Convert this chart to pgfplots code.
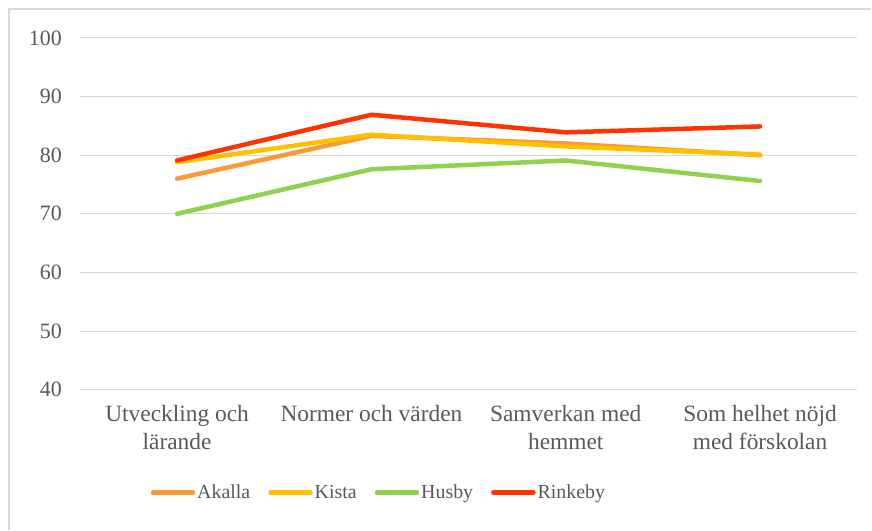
\documentclass[border=0pt]{standalone}
\usepackage{pgfplots}
\pgfplotsset{compat=1.18}
\usepackage{fontspec}
\setmainfont{Liberation Serif}
\definecolor{akalla}{HTML}{F8993A}
\definecolor{kista}{HTML}{FFC000}
\definecolor{husby}{HTML}{92D050}
\definecolor{rinkeby}{HTML}{FF3300}
\definecolor{gridc}{HTML}{D9D9D9}
\definecolor{txt}{HTML}{595959}
\begin{document}
\begin{tikzpicture}
\begin{axis}[
    scale only axis,
    width=778bp, height=352bp,
    xmin=-0.5, xmax=3.5,
    ymin=40, ymax=100,
    xtick={0,1,2,3},
    xticklabels={{Utveckling och\\lärande},{Normer och värden},{Samverkan med\\hemmet},{Som helhet nöjd\\med förskolan}},
    ytick={40,50,60,70,80,90,100},
    axis line style={draw=none},
    major tick length=0pt,
    ymajorgrids,
    grid style={gridc, line width=1bp},
    xticklabel style={align=center, inner sep=0pt, yshift=-15bp, text=txt, font=\rmfamily\fontsize{23.5}{29}\selectfont},
    yticklabel style={inner sep=0pt, xshift=-18bp, text=txt, font=\rmfamily\fontsize{22}{26}\selectfont},
    /pgf/number format/assume math mode=true,
    legend columns=4,
    legend style={draw=none, at={(0.087,-0.293)}, anchor=west,
        font=\rmfamily\fontsize{20}{24}\selectfont, text=txt,
        /tikz/every even column/.append style={column sep=16bp},
        nodes={inner sep=2bp}},
    legend image code/.code={\draw[#1, line width=4.5bp, line cap=round] (0bp,0bp) -- (40bp,0bp);},
    every axis plot/.append style={line width=4.5bp, line cap=round, line join=round},
    clip=false,
]
\coordinate (ll) at (rel axis cs:0,0);
\coordinate (ur) at (rel axis cs:1,1);
\addplot[akalla] coordinates {(0,76.0) (1,83.3) (2,82.0) (3,80.0)};
\addlegendentry{Akalla}
\addplot[kista] coordinates {(0,78.8) (1,83.5) (2,81.5) (3,80.1)};
\addlegendentry{Kista}
\addplot[husby] coordinates {(0,70.0) (1,77.6) (2,79.1) (3,75.6)};
\addlegendentry{Husby}
\addplot[rinkeby] coordinates {(0,79.1) (1,86.9) (2,83.9) (3,84.9)};
\addlegendentry{Rinkeby}
\end{axis}
\path ([xshift=-80bp,yshift=-140bp]ll) rectangle ([xshift=14bp,yshift=38bp]ur);
\draw[gridc, line width=1.5bp] ([xshift=14bp,yshift=29bp]ur) -| ([xshift=-71bp,yshift=-140bp]ll);
\end{tikzpicture}
\end{document}
